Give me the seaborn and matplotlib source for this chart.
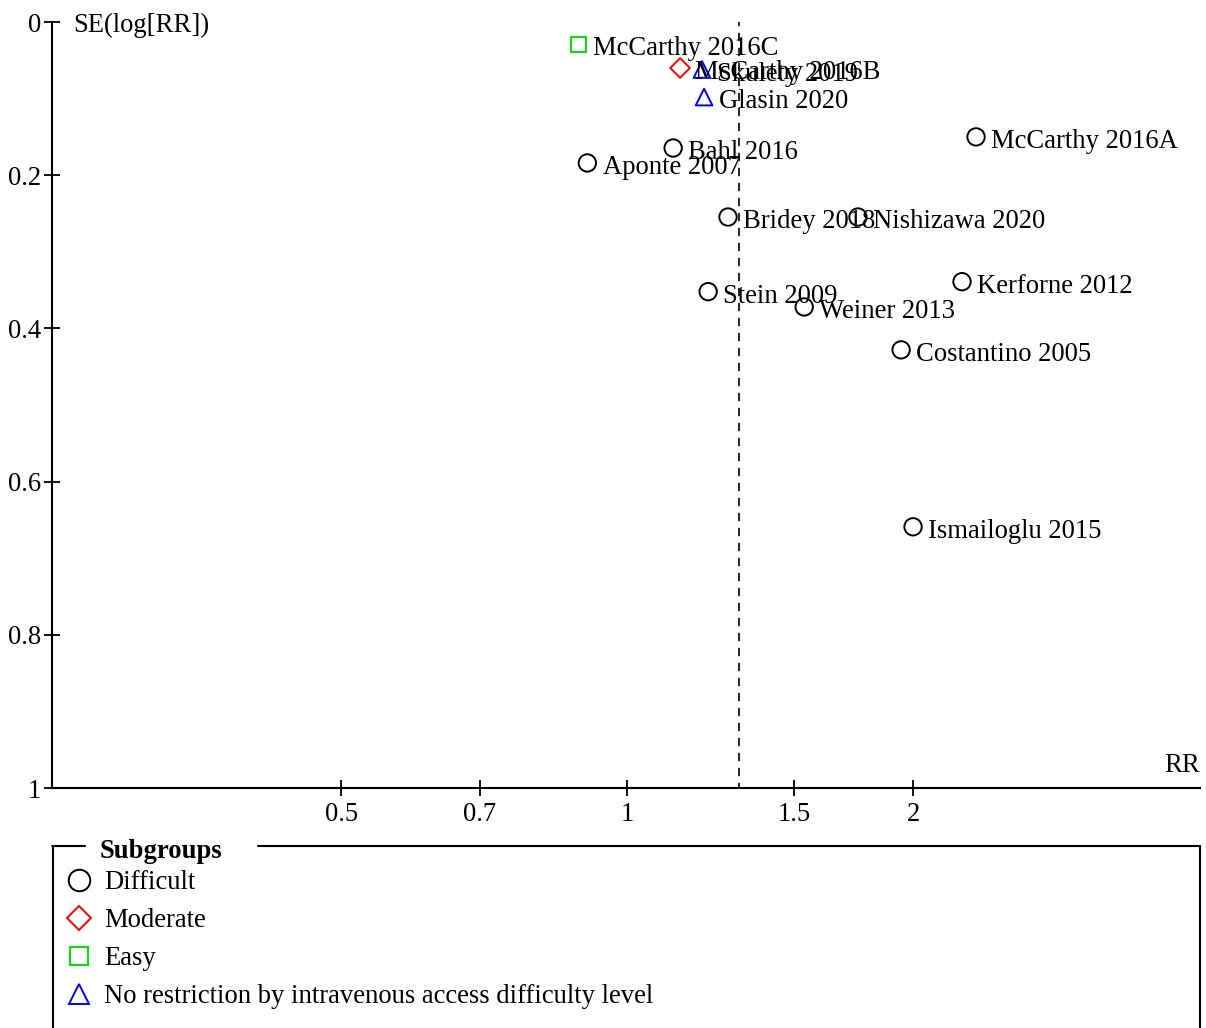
import matplotlib
matplotlib.use("Agg")
import matplotlib.pyplot as plt
import seaborn as sns
import pandas as pd
from matplotlib.lines import Line2D

studies = ["McCarthy 2016C", "McCarthy 2016B", "Skulety 2019", "Glasin 2020",
           "McCarthy 2016A", "Bahl 2016", "Aponte 2007", "Bridey 2018",
           "Nishizawa 2020", "Kerforne 2012", "Stein 2009", "Weiner 2013",
           "Costantino 2005", "Ismailoglu 2015"]
rr = [0.888, 1.137, 1.199, 1.205, 2.33, 1.118, 0.908, 1.277,
      1.75, 2.252, 1.217, 1.536, 1.943, 2.0]
se = [0.029, 0.060, 0.062, 0.098, 0.150, 0.1645, 0.184, 0.2546,
      0.2546, 0.339, 0.352, 0.372, 0.428, 0.659]
subgroup = ["Easy", "Moderate", "No restriction", "No restriction",
            "Difficult", "Difficult", "Difficult", "Difficult",
            "Difficult", "Difficult", "Difficult", "Difficult",
            "Difficult", "Difficult"]
pooled_rr = 1.312

groups = ["Difficult", "Moderate", "Easy", "No restriction"]
legend_labels = ["Difficult", "Moderate", "Easy",
                 "No restriction by intravenous access difficulty level"]
colors = {"Difficult": "black", "Moderate": "#ff0000", "Easy": "#00e000", "No restriction": "#0000ff"}
markers = {"Difficult": "o", "Moderate": "D", "Easy": "s", "No restriction": "^"}
sizes = {"Difficult": 12.5, "Moderate": 10, "Easy": 11, "No restriction": 12}

df = pd.DataFrame({"study": studies, "rr": rr, "se": se, "group": subgroup})

sns.set_style("ticks")
plt.rcParams["font.family"] = ["Liberation Serif", "DejaVu Serif"]
plt.rcParams["text.color"] = "black"
FS = 19.2

fig = plt.figure(figsize=(12.06, 10.28), dpi=100)
ax = fig.add_axes([52/1206, 1-788/1028, 1148/1206, 766/1028])

for g in groups:
    sub = df[df.group == g]
    sns.scatterplot(data=sub, x="rr", y="se", ax=ax, marker=markers[g],
                    s=sizes[g]**2, facecolor="none", edgecolor=colors[g],
                    linewidth=1.4, legend=False, zorder=3)

for _, r in df.iterrows():
    ax.annotate(r["study"], (r["rr"], r["se"]), xytext=(11, -1.2),
                textcoords="offset points", va="center_baseline", ha="left",
                fontsize=FS, color="black", zorder=4)

ax.plot([pooled_rr, pooled_rr], [0, 1], color="black", lw=1.2,
        ls=(2.5, (5, 4)), zorder=2)

ax.set_xscale("log")
ax.set_xlim(0.248, 4.01)
ax.set_ylim(1, 0)
xt = [0.5, 0.7, 1, 1.5, 2]
ax.set_xticks(xt)
ax.set_xticklabels(["0.5", "0.7", "1", "1.5", "2"])
ax.xaxis.set_minor_locator(matplotlib.ticker.NullLocator())
yt = [0, 0.2, 0.4, 0.6, 0.8, 1]
ax.set_yticks(yt)
ax.set_yticklabels(["0", "0.2", "0.4", "0.6", "0.8", "1"])
ax.tick_params(axis="both", direction="inout", length=12, width=1.3,
               labelsize=FS, colors="black")
ax.tick_params(axis="x", pad=4)
ax.tick_params(axis="y", pad=2)
ax.set_xlabel("")
ax.set_ylabel("")
for s in ["top", "right"]:
    ax.spines[s].set_visible(False)
for s in ["left", "bottom"]:
    ax.spines[s].set_linewidth(1.5)
    ax.spines[s].set_color("black")

ax.text(21/1148, 1.0, "SE(log[RR])", transform=ax.transAxes,
        va="center_baseline", ha="left", fontsize=FS, color="black")
ax.text(1.0, 25/766, "RR", transform=ax.transAxes, va="center_baseline",
        ha="right", fontsize=FS, color="black")

# legend box with title in border
def fx(px):
    return px/1206
def fy(py):
    return 1 - py/1028
lw = 1.5
fig.add_artist(Line2D([fx(52), fx(85)], [fy(846), fy(846)], color="black", lw=lw))
fig.add_artist(Line2D([fx(258), fx(1200)], [fy(846), fy(846)], color="black", lw=lw))
fig.add_artist(Line2D([fx(53), fx(53)], [fy(846), fy(1030)], color="black", lw=lw))
fig.add_artist(Line2D([fx(1200), fx(1200)], [fy(846), fy(1030)], color="black", lw=lw))
fig.text(fx(100), fy(848), "Subgroups", fontsize=FS, fontweight="bold",
         ha="left", va="center_baseline", color="black")

leg_sizes = {"Difficult": 15.5, "Moderate": 12, "Easy": 13, "No restriction": 14}
handles = [Line2D([], [], ls="none", marker=markers[g], markersize=leg_sizes[g],
                  markerfacecolor="none", markeredgecolor=colors[g], markeredgewidth=1.4)
           for g in groups]
leg = fig.legend(handles, legend_labels, loc="upper left",
                 bbox_to_anchor=(fx(66), fy(870)), frameon=False,
                 fontsize=FS, handlelength=1.0, handletextpad=0.42,
                 labelspacing=0.49, borderaxespad=0, borderpad=0)

fig.savefig("out.png", dpi=100)
